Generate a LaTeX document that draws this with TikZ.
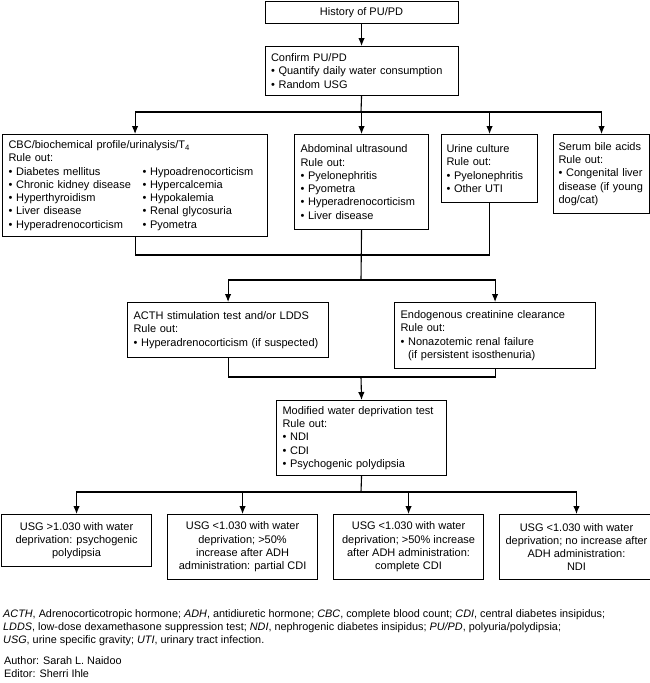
\documentclass[tikz,border=0pt]{standalone}
\usepackage{fontspec}
\setmainfont{Liberation Sans}
\usetikzlibrary{arrows.meta,positioning}

\newcommand{\bul}{\textbullet\ }
\newcommand{\hang}{\phantom{\textbullet\ }}
\newcommand{\pair}[2]{\makebox[134pt][l]{\bul #1}\bul #2}

\begin{document}
\begin{tikzpicture}[x=1pt,y=-1pt,
    box/.style={draw, line width=1.1pt, inner xsep=6pt, inner ysep=2pt,
      anchor=north west, font=\fontsize{11}{13.3}\selectfont},
    lbox/.style={box, align=left},
    cbox/.style={box, align=center},
    sz/.style 2 args={minimum width=#1pt, minimum height=#2pt},
    arr/.style={line width=1.1pt, -{Latex[length=8pt,width=6.5pt]}},
    link/.style={line width=1.1pt}]
  \useasboundingbox (0,0) rectangle (650,683);
  % Start
  \node[cbox, sz={193}{22}] (hist) at (264.5,1) {History of PU/PD};
  \node[lbox, sz={193}{49}, text width=181pt] (conf) at (264.5,46)
    {Confirm PU/PD\\\bul Quantify daily water consumption\\\bul Random USG};
  % First tests
  \node[lbox, sz={265}{102}, text width=253pt] (cbc) at (2,134)
    {CBC/biochemical profile/urinalysis/T\textsubscript{4}\\Rule out:\\
     \pair{Diabetes mellitus}{Hypoadrenocorticism}\\
     \pair{Chronic kidney disease}{Hypercalcemia}\\
     \pair{Hyperthyroidism}{Hypokalemia}\\
     \pair{Liver disease}{Renal glycosuria}\\
     \pair{Hyperadrenocorticism}{Pyometra}};
  \node[lbox, sz={134}{95}, text width=122pt] (abd) at (294,134)
    {Abdominal ultrasound\\Rule out:\\\bul Pyelonephritis\\\bul Pyometra\\
     \bul Hyperadrenocorticism\\\bul Liver disease};
  \node[lbox, sz={96}{68}, text width=86pt, inner xsep=5pt] (uri) at (441,134)
    {Urine culture\\Rule out:\\\bul Pyelonephritis\\\bul Other UTI};
  \node[lbox, sz={96}{79}, text width=86pt, inner xsep=5pt] (ser) at (553,134)
    {Serum bile acids\\Rule out:\\\bul Congenital liver\\disease (if young\\dog/cat)};
  % Second tests
  \node[lbox, sz={201}{55}, text width=189pt] (acth) at (127,302)
    {ACTH stimulation test and/or LDDS\\Rule out:\\\bul Hyperadrenocorticism (if suspected)};
  \node[lbox, sz={201}{66}, text width=189pt] (endo) at (394,302)
    {Endogenous creatinine clearance\\Rule out:\\\bul Nonazotemic renal failure\\
     \hang(if persistent isosthenuria)};
  % Water deprivation
  \node[lbox, sz={170}{75}, text width=158pt] (mwdt) at (276,400)
    {Modified water deprivation test\\Rule out:\\\bul NDI\\\bul CDI\\\bul Psychogenic polydipsia};
  % Outcomes
  \node[cbox, sz={150}{52}] (res1) at (1,514)
    {USG >1.030 with water\\deprivation: psychogenic\\polydipsia};
  \node[cbox, sz={150}{65}] (res2) at (167,514)
    {USG <1.030 with water\\deprivation; >50\%\\increase after ADH\\administration: partial CDI};
  \node[cbox, sz={150}{65}] (res3) at (333,514)
    {USG <1.030 with water\\deprivation; >50\% increase\\after ADH administration:\\complete CDI};
  \node[cbox, sz={149}{65}] (res4) at (499,514)
    {USG <1.030 with water\\deprivation; no increase after\\ADH administration:\\NDI};
  % Connectors
  \draw[arr] (hist) -- (conf);
  \coordinate (fork1) at (361,112);
  \draw[link] (conf.south) -- (fork1);
  \foreach \n in {cbc,abd,uri,ser}
    \draw[arr] (fork1) -| (\n.north);
  \coordinate (join1) at (361,255);
  \coordinate (fork2) at (361,280);
  \draw[link] (cbc.south) |- (join1) -| (uri.south);
  \draw[link] (abd.south) -- (fork2);
  \draw[arr] (fork2) -| (acth.north);
  \draw[arr] (fork2) -| (endo.north);
  \coordinate (join2) at (361,377);
  \draw[link] (acth.south) |- (join2) -| (endo.south);
  \draw[arr] (join2) -- (mwdt.north);
  \coordinate (fork3) at (361,492);
  \draw[link] (mwdt.south) -- (fork3);
  \foreach \n in {res1,res2,res3,res4}
    \draw[arr] (fork3) -| (\n.north);
  % Key
  \node[anchor=north west, inner sep=0pt, align=left,
    font=\fontsize{10.85}{13.2}\selectfont] (key) at (3,609)
    {\textit{ACTH}, Adrenocorticotropic hormone; \textit{ADH}, antidiuretic hormone; \textit{CBC}, complete blood count; \textit{CDI}, central diabetes insipidus;\\
     \textit{LDDS}, low-dose dexamethasone suppression test; \textit{NDI}, nephrogenic diabetes insipidus; \textit{PU/PD}, polyuria/polydipsia;\\
     \textit{USG}, urine specific gravity; \textit{UTI}, urinary tract infection.};
  \node[anchor=north west, inner sep=0pt, align=left,
    font=\fontsize{10.85}{13.2}\selectfont] (credit) at (4,656)
    {Author: Sarah L. Naidoo\\Editor: Sherri Ihle};
\end{tikzpicture}
\end{document}
